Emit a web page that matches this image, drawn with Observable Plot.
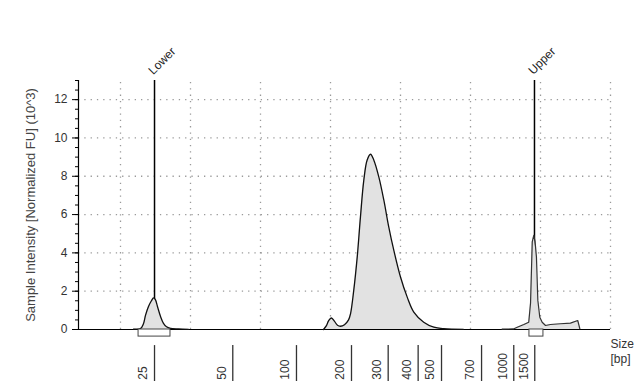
<!DOCTYPE html>
<html>
<head>
<meta charset="utf-8">
<script src="https://cdn.jsdelivr.net/npm/d3@7"></script>
<script src="https://cdn.jsdelivr.net/npm/@observablehq/plot@0.6"></script>
<style>
  html, body { margin: 0; padding: 0; background: #fff; }
  #chart { width: 636px; height: 381px; overflow: hidden; }
</style>
</head>
<body>
<div id="chart"></div>
<script>
// ---- data (migration time in s, intensity in 10^3 FU) ----
const lowerT  = [20.93, 21.43, 21.64, 21.79, 22.0, 22.21, 22.36, 22.5, 22.64, 22.86, 23.07, 23.29, 23.57, 24.14, 24.86];
const lowerFU = [0.02, 0.05, 0.3, 0.75, 1.2, 1.5, 1.65, 1.55, 1.2, 0.68, 0.32, 0.14, 0.06, 0.03, 0.01];

const mainT  = [34.5, 34.71, 34.86, 35.07, 35.29, 35.5, 35.71, 36.0, 36.29, 36.43, 36.66, 36.91, 37.14, 37.38, 37.62, 37.86, 38.09, 38.45, 38.81, 39.16, 39.52, 40.0, 40.48, 40.95, 41.66, 42.38, 43.09, 44.5];
const mainFU = [0.0, 0.2, 0.45, 0.6, 0.42, 0.22, 0.17, 0.25, 0.5, 0.82, 2.04, 3.79, 5.88, 7.8, 8.85, 9.15, 8.85, 7.97, 6.75, 5.36, 4.14, 2.74, 1.69, 0.91, 0.38, 0.12, 0.04, 0.01];

const upperT  = [47.26, 48.07, 48.34, 48.81, 49.16, 49.29, 49.41, 49.52, 49.61, 49.71, 49.81, 49.95, 50.12, 50.36, 50.71, 51.43, 52.14, 52.66, 52.81];
const upperFU = [0.02, 0.03, 0.12, 0.26, 0.38, 1.4, 4.57, 4.92, 4.6, 3.79, 1.52, 0.64, 0.38, 0.21, 0.26, 0.3, 0.33, 0.47, 0.04];

const markerNames = ["Lower", "Upper"];
const markerT     = [22.43, 49.57];
const boxStart    = [21.29, 49.21];
const boxEnd      = [23.57, 50.21];

const ladderBp = [25, 50, 100, 200, 300, 400, 500, 700, 1000, 1500];
const ladderT  = [22.43, 28.02, 32.57, 36.5, 39.12, 41.26, 42.93, 45.79, 48.09, 49.59];

const yMajor = [0, 2, 4, 6, 8, 10, 12];
const yMinor = d3.range(0, 13.01, 0.5);
const yGrid  = [2, 4, 6, 8, 10, 12];
const xGrid  = [20, 25, 30, 35, 40, 45, 50, 55];

const yLabel = "Sample Intensity [Normalized FU] (10^3)";

// ---- tables built from the arrays ----
const seg = (t, v) => t.map((x, i) => ({t: x, fu: v[i]}));
const lower = seg(lowerT, lowerFU);
const main  = seg(mainT, mainFU);
const upper = seg(upperT, upperFU);
const markers = markerNames.map((n, i) => ({name: n, t: markerT[i], t1: boxStart[i], t2: boxEnd[i]}));
const ladder = ladderBp.map((b, i) => ({bp: b, t: ladderT[i]}));

const FONT = "Liberation Sans, Arial, sans-serif";
const dotted = {stroke: "#9a9a9a", strokeWidth: 1.3, strokeDasharray: "1.3,5"};

const chart = Plot.plot({
  width: 636,
  height: 381,
  marginLeft: 78,
  marginRight: 26,
  marginTop: 80,
  marginBottom: 52,
  x: {domain: [17, 55], axis: null},
  y: {domain: [0, 13], axis: null},
  style: {fontFamily: FONT, background: "#fff", overflow: "visible"},
  marks: [
    // grid
    Plot.ruleY(yGrid, {...dotted}),
    Plot.ruleX(xGrid, {y1: 0, y2: 13, ...dotted}),
    // marker lines (behind the trace)
    Plot.ruleX(markers, {x: "t", y1: 0, y2: 13, stroke: "#000", strokeWidth: 1.5}),
    // trace fills
    Plot.areaY(lower, {x: "t", y: "fu", fill: "#e2e2e2", curve: "catmull-rom"}),
    Plot.areaY(main,  {x: "t", y: "fu", fill: "#e2e2e2", curve: "catmull-rom"}),
    Plot.areaY(upper, {x: "t", y: "fu", fill: "#e2e2e2"}),
    // x baseline
    Plot.ruleY([0], {stroke: "#000", strokeWidth: 1.2}),
    // trace outlines
    Plot.lineY(lower, {x: "t", y: "fu", stroke: "#111", strokeWidth: 1.3, curve: "catmull-rom"}),
    Plot.lineY(main,  {x: "t", y: "fu", stroke: "#111", strokeWidth: 1.3, curve: "catmull-rom"}),
    Plot.lineY(upper, {x: "t", y: "fu", stroke: "#333", strokeWidth: 1.2}),
    // integration boxes under markers
    Plot.rect(markers, {x1: "t1", x2: "t2", y1: 0, y2: -0.37, fill: "#fff", stroke: "#444", strokeWidth: 1}),
    // marker labels
    Plot.text(markers, {x: "t", y: 13, text: "name", rotate: -45, textAnchor: "start", dx: -4, dy: -8, fontSize: 12, fill: "#222"}),
    // y axis
    Plot.ruleX([17], {y1: 0, y2: 13, stroke: "#000", strokeWidth: 1.2}),
    Plot.axisY(yMinor, {tickSize: 3, tickFormat: () => "", label: null, stroke: "#000"}),
    Plot.axisY(yMajor, {tickSize: 6, tickPadding: 5, label: null, fontSize: 12, fill: "#333", stroke: "#000"}),
    Plot.text([yLabel], {frameAnchor: "left", textAnchor: "middle", rotate: -90, dx: -48, fontSize: 13, fill: "#444"}),
    // size ladder below the axis
    Plot.ruleX(ladder, {x: "t", y1: -0.84, y2: -2.75, stroke: "#333", strokeWidth: 1.3}),
    Plot.text(ladder, {x: "t", y: -2.62, text: d => String(d.bp), rotate: -90, textAnchor: "start", dx: -11, fontSize: 12, fill: "#333"}),
    Plot.text(["Size"], {frameAnchor: "bottom-right", textAnchor: "start", dx: 0, dy: 18, fontSize: 12, fill: "#333"}),
    Plot.text(["[bp]"], {frameAnchor: "bottom-right", textAnchor: "start", dx: 0, dy: 33, fontSize: 12, fill: "#333"})
  ]
});
document.getElementById("chart").append(chart);
</script>
</body>
</html>
